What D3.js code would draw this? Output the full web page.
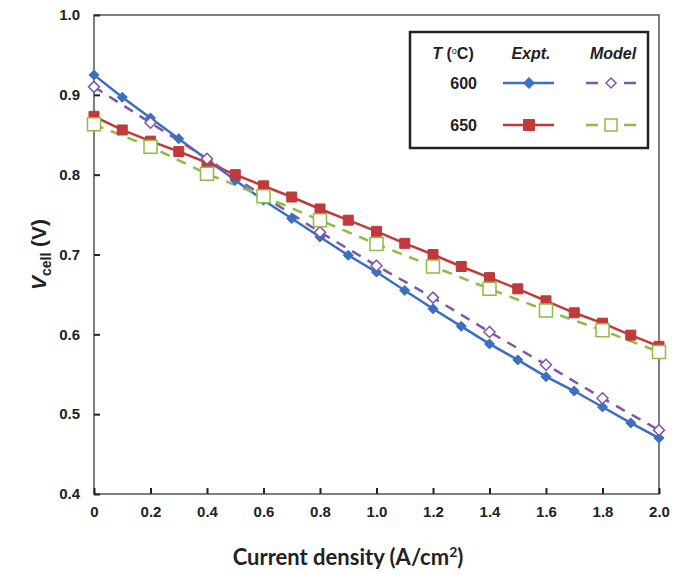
<!DOCTYPE html>
<html>
<head>
<meta charset="utf-8">
<script src="https://cdn.jsdelivr.net/npm/d3@7"></script>
<style>
	body { margin: 0; background: #fff; }
</style>
</head>
<body>
<svg id="chart" width="676" height="574"></svg>
<script>
// current density (A/cm2)
var exptX = [0, 0.1, 0.2, 0.3, 0.4, 0.5, 0.6, 0.7, 0.8, 0.9, 1.0,
	1.1, 1.2, 1.3, 1.4, 1.5, 1.6, 1.7, 1.8, 1.9, 2.0];
var modelX = [0, 0.2, 0.4, 0.6, 0.8, 1.0, 1.2, 1.4, 1.6, 1.8, 2.0];

// cell voltage (V)
var expt600 = [0.925, 0.897, 0.871, 0.845, 0.819, 0.793, 0.768, 0.745, 0.722, 0.699, 0.678,
	0.655, 0.632, 0.610, 0.588, 0.568, 0.547, 0.529, 0.509, 0.489, 0.470];
var expt650 = [0.873, 0.856, 0.842, 0.829, 0.815, 0.800, 0.786, 0.772, 0.757, 0.743, 0.729,
	0.714, 0.700, 0.685, 0.671, 0.657, 0.642, 0.627, 0.614, 0.599, 0.585];
var model600 = [0.910, 0.865, 0.820, 0.773, 0.728, 0.686, 0.646, 0.603, 0.562, 0.520, 0.480];
var model650 = [0.863, 0.835, 0.801, 0.773, 0.743, 0.713, 0.685, 0.657, 0.630, 0.605, 0.578];

var xTicks = [0, 0.2, 0.4, 0.6, 0.8, 1.0, 1.2, 1.4, 1.6, 1.8, 2.0];
var yTicks = [0.4, 0.5, 0.6, 0.7, 0.8, 0.9, 1.0];
var temps = ["600", "650"];

var arial = "'Liberation Sans', Arial, sans-serif";
var svg = d3.select("#chart");
var margin = {top: 15, right: 17, bottom: 80, left: 94},
	width = +svg.attr("width") - margin.left - margin.right,
	height = +svg.attr("height") - margin.top - margin.bottom,
	g = svg.append("g").attr("transform", "translate(" + margin.left + "," + margin.top + ")");

var x = d3.scaleLinear().domain([0, 2.0]).range([0, width]);
var y = d3.scaleLinear().domain([0.4, 1.0]).range([height, 0]);

var series = [
	{name: "e600", xs: exptX, ys: expt600, color: "#3b6fc2", dash: null, shape: "diamond", fill: true, size: 10},
	{name: "e650", xs: exptX, ys: expt650, color: "#c0393b", dash: null, shape: "square", fill: true, size: 10},
	{name: "m600", xs: modelX, ys: model600, color: "#7f56a8", dash: "10,8", shape: "diamond", fill: false, size: 11},
	{name: "m650", xs: modelX, ys: model650, color: "#8dbb43", dash: "10,8", shape: "square", fill: false, size: 13}
];

function markerPath(shape, s)
{
	var h = s / 2;
	if(shape == "diamond")
		return "M0," + (-h) + "L" + h + ",0L0," + h + "L" + (-h) + ",0Z";
	return "M" + (-h) + "," + (-h) + "H" + h + "V" + h + "H" + (-h) + "Z";
}

// frame
g.append("rect")
	.attr("width", width)
	.attr("height", height)
	.attr("fill", "none")
	.attr("stroke", "#555")
	.attr("stroke-width", 1.5);

// axes
var xAxis = g.append("g")
	.attr("transform", "translate(0," + height + ")")
	.call(d3.axisBottom(x).tickValues(xTicks).tickSize(-6).tickPadding(12)
		.tickFormat(function(d){ return d == 0 ? "0" : d3.format(".1f")(d); }));
var yAxis = g.append("g")
	.call(d3.axisLeft(y).tickValues(yTicks).tickSize(-6).tickPadding(14).tickFormat(d3.format(".1f")));

[xAxis, yAxis].forEach(function(a){
	a.select(".domain").remove();
	a.selectAll(".tick line").attr("stroke", "#222").attr("stroke-width", 2);
	a.selectAll(".tick text")
		.attr("fill", "#222")
		.attr("font-size", 15)
		.attr("font-weight", "bold")
		.attr("font-family", arial);
});

// lines and markers
series.forEach(function(s){
	var pts = s.xs.map(function(v, i){ return [v, s.ys[i]]; });
	var line = d3.line()
		.x(function(d){ return x(d[0]); })
		.y(function(d){ return y(d[1]); });
	g.append("path")
		.datum(pts)
		.attr("fill", "none")
		.attr("stroke", s.color)
		.attr("stroke-width", 2.5)
		.attr("stroke-dasharray", s.dash)
		.attr("d", line);
});
series.forEach(function(s){
	var pts = s.xs.map(function(v, i){ return [v, s.ys[i]]; });
	g.selectAll(".pt-" + s.name)
		.data(pts)
		.enter().append("path")
		.attr("class", "pt-" + s.name)
		.attr("transform", function(d){ return "translate(" + x(d[0]) + "," + y(d[1]) + ")"; })
		.attr("d", markerPath(s.shape, s.size))
		.attr("fill", s.fill ? s.color : "#fff")
		.attr("stroke", s.color)
		.attr("stroke-width", s.fill ? 1 : 1.5);
});

// axis titles
svg.append("text")
	.attr("x", 348)
	.attr("y", 565)
	.attr("text-anchor", "middle")
	.attr("font-family", "Lato, 'Open Sans', sans-serif")
	.attr("font-size", 22)
	.attr("font-weight", "bold")
	.attr("fill", "#222")
	.html("Current density (A/cm<tspan dy='-8' font-size='14'>2</tspan><tspan dy='8'>)</tspan>");

var yt = svg.append("text")
	.attr("transform", "translate(46," + (margin.top + height / 2) + ") rotate(-90)")
	.attr("text-anchor", "middle")
	.attr("font-family", arial)
	.attr("font-weight", "bold")
	.attr("font-size", 21)
	.attr("fill", "#222");
yt.append("tspan").attr("font-style", "italic").text("V");
yt.append("tspan").attr("font-size", 14).attr("dy", 5).text("cell");
yt.append("tspan").attr("dy", -5).text(" (V)");

// legend
var legend = svg.append("g").attr("transform", "translate(410,32)")
	.attr("font-family", arial);
legend.append("rect")
	.attr("width", 238)
	.attr("height", 116)
	.attr("fill", "#fff")
	.attr("stroke", "#222")
	.attr("stroke-width", 2.5);

var head = legend.append("text")
	.attr("x", 43).attr("y", 27)
	.attr("text-anchor", "middle")
	.attr("font-size", 16).attr("font-weight", "bold").attr("fill", "#222");
head.append("tspan").attr("font-style", "italic").text("T");
head.append("tspan").text(" (");
head.append("tspan").attr("font-size", 9).attr("font-weight", "normal").attr("dy", -5).text("o");
head.append("tspan").attr("dy", 5).text("C)");

legend.append("text")
	.attr("x", 121).attr("y", 27)
	.attr("text-anchor", "middle")
	.attr("font-size", 16).attr("font-weight", "bold").attr("font-style", "italic").attr("fill", "#222")
	.text("Expt.");
legend.append("text")
	.attr("x", 203).attr("y", 27)
	.attr("text-anchor", "middle")
	.attr("font-size", 16).attr("font-weight", "bold").attr("font-style", "italic").attr("fill", "#222")
	.text("Model");

var rows = legend.selectAll(".row")
	.data(temps)
	.enter().append("g")
	.attr("class", "row")
	.attr("transform", function(d, i){ return "translate(0," + (51 + i * 42) + ")"; });

rows.append("text")
	.attr("x", 67).attr("dy", "0.35em")
	.attr("text-anchor", "end")
	.attr("font-size", 16).attr("font-weight", "bold").attr("fill", "#222")
	.text(function(d){ return d; });

rows.each(function(d, i){
	var row = d3.select(this);
	var e = series[i], m = series[i + 2];
	row.append("line")
		.attr("x1", 93).attr("x2", 144)
		.attr("stroke", e.color).attr("stroke-width", 2.5);
	row.append("path")
		.attr("transform", "translate(119,0)")
		.attr("d", markerPath(e.shape, e.size + 1))
		.attr("fill", e.color).attr("stroke", e.color);
	[[176, 188], [214, 226]].forEach(function(seg){
		row.append("line")
			.attr("x1", seg[0]).attr("x2", seg[1])
			.attr("stroke", m.color).attr("stroke-width", 2.5);
	});
	row.append("path")
		.attr("transform", "translate(201,0)")
		.attr("d", markerPath(m.shape, m.size - 1))
		.attr("fill", "#fff").attr("stroke", m.color).attr("stroke-width", 1.5);
});
</script>
</body>
</html>
